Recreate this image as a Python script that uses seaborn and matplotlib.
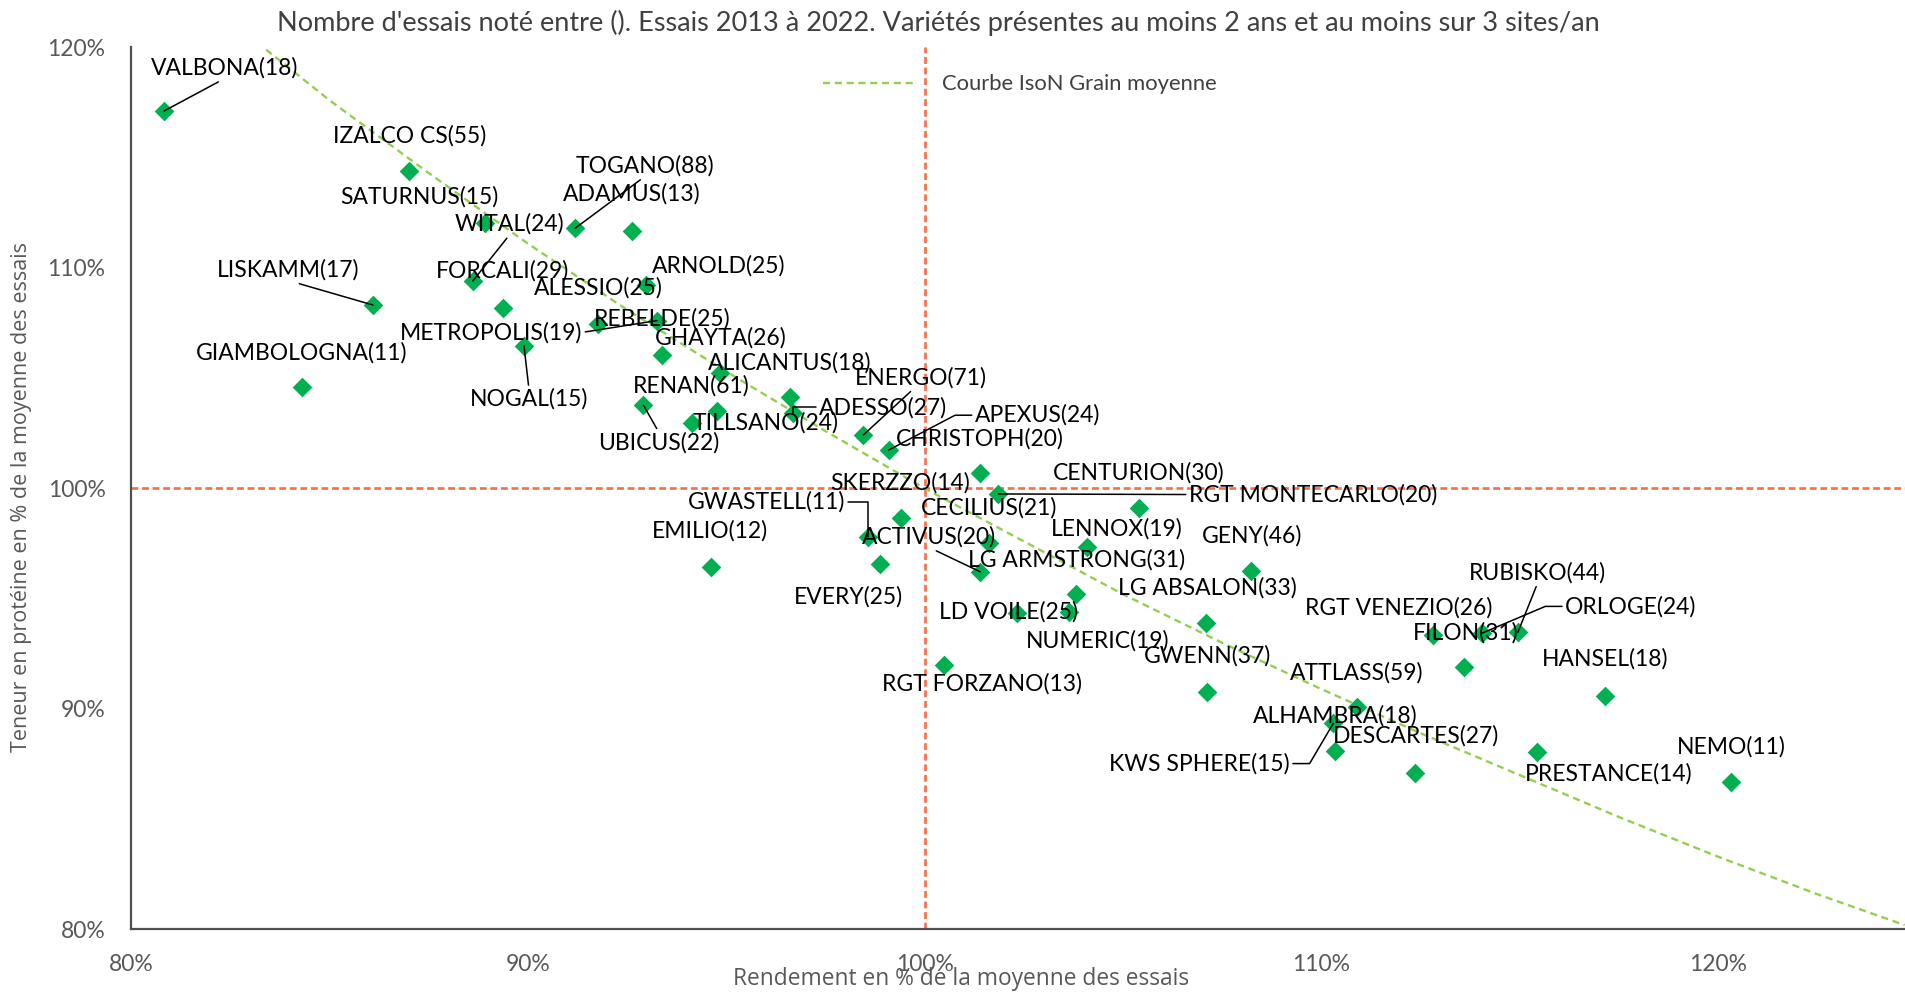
import numpy as np
import pandas as pd
import matplotlib
matplotlib.use("Agg")
import matplotlib.pyplot as plt
import seaborn as sns

# varieties, number of trials, yield (% of mean) and protein (% of mean)
varietes = ["VALBONA", "IZALCO CS", "SATURNUS", "TOGANO", "ADAMUS", "LISKAMM", "WITAL",
            "FORCALI", "ARNOLD", "ALESSIO", "METROPOLIS", "NOGAL", "REBELDE", "GIAMBOLOGNA",
            "UBICUS", "RENAN", "GHAYTA", "ALICANTUS", "TILLSANO", "ADESSO", "ENERGO", "APEXUS",
            "CHRISTOPH", "RGT MONTECARLO", "SKERZZO", "GWASTELL", "EVERY", "CECILIUS", "ACTIVUS",
            "CENTURION", "LENNOX", "EMILIO", "GENY", "LG ARMSTRONG", "LD VOILE", "NUMERIC",
            "LG ABSALON", "RGT FORZANO", "GWENN", "RGT VENEZIO", "ORLOGE", "RUBISKO", "FILON",
            "HANSEL", "ATTLASS", "KWS SPHERE", "ALHAMBRA", "DESCARTES", "PRESTANCE", "NEMO"]
nb_essais = [18, 55, 15, 88, 13, 17, 24,
             29, 25, 25, 19, 15, 25, 11,
             22, 61, 26, 18, 24, 27, 71, 24,
             20, 20, 14, 11, 25, 21, 20,
             30, 19, 12, 46, 31, 25, 19,
             33, 13, 37, 26, 24, 44, 31,
             18, 59, 15, 18, 27, 14, 11]
rendement = [80.83, 87.01, 88.92, 91.19, 92.62, 86.09, 88.61,
             89.36, 92.98, 91.77, 93.25, 89.90, 93.37, 84.30,
             92.91, 94.13, 94.84, 96.61, 94.77, 96.69, 98.45, 99.09,
             101.40, 101.86, 99.40, 98.58, 98.88, 101.61, 101.40,
             105.41, 104.10, 94.61, 108.22, 103.82, 102.32, 103.63,
             107.09, 100.48, 107.12, 112.82, 114.04, 114.95, 113.60,
             117.14, 110.89, 110.30, 110.35, 112.36, 115.43, 120.32]
proteine = [117.12, 114.39, 112.05, 111.80, 111.69, 108.32, 109.41,
            108.17, 109.22, 107.46, 107.61, 106.46, 106.04, 104.61,
            103.78, 102.98, 105.22, 104.16, 103.52, 103.41, 102.42, 101.74,
            100.68, 99.75, 98.64, 97.81, 96.57, 97.51, 96.22,
            99.10, 97.33, 96.45, 96.27, 95.21, 94.35, 94.39,
            93.91, 91.98, 90.78, 93.35, 93.43, 93.47, 91.89,
            90.60, 90.07, 89.35, 88.10, 87.11, 88.06, 86.67]

# IsoN grain curve
iso_rendement = [83.4, 85, 87.5, 90, 92.5, 95, 97.5, 100, 102.5, 105,
                 107.5, 110, 112.5, 115, 117.5, 120, 122.5, 124.7]
iso_proteine = [119.9, 117.6, 114.3, 111.1, 108.1, 105.3, 102.6, 100.0, 97.6, 95.2,
                93.0, 90.9, 88.9, 87.0, 85.1, 83.3, 81.6, 80.2]

ticks = [80, 90, 100, 110, 120]

# label offsets in points from each point
offsets = [(43.4, 31.0), (0, 25.7), (-47.5, 18.4), (50.1, 45.0), (-0.3, 26.3), (-61.1, 25.4), (26.4, 40.9),
           (0.2, 26.9), (52.4, 13.8), (0.4, 25.7), (-119.6, -8.5), (3.5, -38.3), (0.2, 26.0), (-0.1, 24.6),
           (10.9, -27.0), (-0.3, 26.6), (0.9, 25.8), (-0.6, 24.6), (34.9, -8.5), (64.8, 4.2), (41.4, 41.4), (107.4, 25.1),
           (-0.4, 24.6), (226.6, -0.4), (-0.5, 25.8), (-73.4, 25.0), (-23.2, -23.8), (0, 25.8), (-36.6, 25.2),
           (-0.4, 25.8), (21.2, 13.0), (-0.5, 25.9), (0.9, 25.1), (0.5, 24.5), (-6.1, 0.6), (20.6, -20.4),
           (0.7, 25.3), (27.3, -13.6), (0.4, 25.9), (-25.2, 19.8), (107.5, 19.4), (14.2, 43.1), (1.1, 25.1),
           (0.2, 26.3), (-0.3, 25.1), (-96.5, -29.0), (0, 25.1), (0.4, 26.2), (51.9, -16.2), (0.3, 25.6)]

# leader lines: variety -> (relpos, connectionstyle)
leaders = {
    "VALBONA": ((0.5, 0), "arc3"),
    "TOGANO": ((0.5, 0), "arc3"),
    "LISKAMM": ((0.5, 0), "arc3"),
    "WITAL": ((0.5, 0), "arc3"),
    "METROPOLIS": ((1, 0.5), "arc3"),
    "NOGAL": ((0.5, 1), "arc3"),
    "UBICUS": ((0.5, 1), "arc3"),
    "ADESSO": ((0, 0.5), "angle,angleA=0,angleB=90,rad=0"),
    "ENERGO": ((0.45, 0), "arc3"),
    "APEXUS": ((0, 0.5), "arc,angleA=180,armA=20,rad=0"),
    "RGT MONTECARLO": ((0, 0.5), "arc3"),
    "GWASTELL": ((1, 0.5), "angle,angleA=0,angleB=90,rad=0"),
    "ACTIVUS": ((0.5, 0), "arc3"),
    "ORLOGE": ((0, 0.5), "arc,angleA=180,armA=20,rad=0"),
    "RUBISKO": ((0.5, 0), "arc3"),
    "KWS SPHERE": ((1, 0.5), "arc,angleA=0,armA=20,rad=0"),
}

df = pd.DataFrame({"variete": varietes, "n": nb_essais, "rendement": rendement, "proteine": proteine})
df["label"] = df["variete"] + "(" + df["n"].astype(str) + ")"
iso = pd.DataFrame({"rendement": iso_rendement, "proteine": iso_proteine})

sns.set_style("white")
plt.rcParams["font.family"] = ["Lato", "DejaVu Sans"]

fig = plt.figure(figsize=(19.05, 9.94), dpi=100)
ax = fig.add_axes([0.0689, 0.0649, 0.9311, 0.8874])

red = "#F86E45"
ax.axhline(100, color=red, lw=1.9, ls=(0, (2.6, 1.4)), zorder=1)
ax.axvline(100, color=red, lw=1.9, ls=(0, (2.6, 1.4)), zorder=1)

sns.lineplot(data=iso, x="rendement", y="proteine", sort=False, estimator=None,
             color="#92D050", lw=1.7, label="Courbe IsoN Grain moyenne", ax=ax, zorder=2)
ax.lines[-1].set_dashes((3.0, 2.0))

sns.scatterplot(data=df, x="rendement", y="proteine", marker="D", color="#00B050",
                s=100, linewidth=0, ax=ax, zorder=3)

for i, row in df.iterrows():
    kw = dict(textcoords="offset points", xytext=offsets[i], ha="center", va="center",
              fontsize=16.5, color="black", zorder=5)
    if row["variete"] in leaders:
        relpos, cs = leaders[row["variete"]]
        kw["arrowprops"] = dict(arrowstyle="-", color="black", lw=1.1, shrinkA=0, shrinkB=0,
                                relpos=relpos, connectionstyle=cs)
    ax.annotate(row["label"], xy=(row["rendement"], row["proteine"]), **kw)

ax.set_xlim(80, 124.71)
ax.set_ylim(80, 120)
ax.set_xticks(ticks)
ax.set_yticks(ticks)
ax.set_xticklabels([f"{t}%" for t in ticks])
ax.set_yticklabels([f"{t}%" for t in ticks])

axis_col = "#595959"
for side in ["top", "right"]:
    ax.spines[side].set_visible(False)
for side in ["left", "bottom"]:
    ax.spines[side].set_color("#505050")
    ax.spines[side].set_linewidth(1.6)
ax.tick_params(axis="both", direction="out", length=6.5, width=1.3, color="#505050",
               labelcolor=axis_col, labelsize=16.5)
ax.tick_params(axis="x", pad=11)
ax.tick_params(axis="y", pad=12)

ax.set_xlabel("Rendement en % de la moyenne des essais", fontsize=16.4, color=axis_col,
              family=["Open Sans", "DejaVu Sans"])
ax.set_ylabel("Teneur en protéine en % de la moyenne des essais", fontsize=15.5, color=axis_col,
              family=["Open Sans", "DejaVu Sans"])
ax.xaxis.set_label_coords(0.468, -0.056)
ax.xaxis.label.set_va("center")
ax.yaxis.set_label_coords(-0.0616, 0.490)
ax.yaxis.label.set_va("center")

ax.set_title("Nombre d'essais noté entre (). Essais 2013 à 2022. Variétés présentes au moins 2 ans "
             "et au moins sur 3 sites/an", x=0.4548, y=1.0277, pad=0, va="center",
             fontsize=19.5, color="#404040")

ax.legend(loc="center left", bbox_to_anchor=(0.390, 0.958), frameon=False, fontsize=15.8,
          handlelength=4.3, handletextpad=1.1, borderpad=0, borderaxespad=0, labelcolor="#404040")

fig.savefig("out.png", dpi=100)
